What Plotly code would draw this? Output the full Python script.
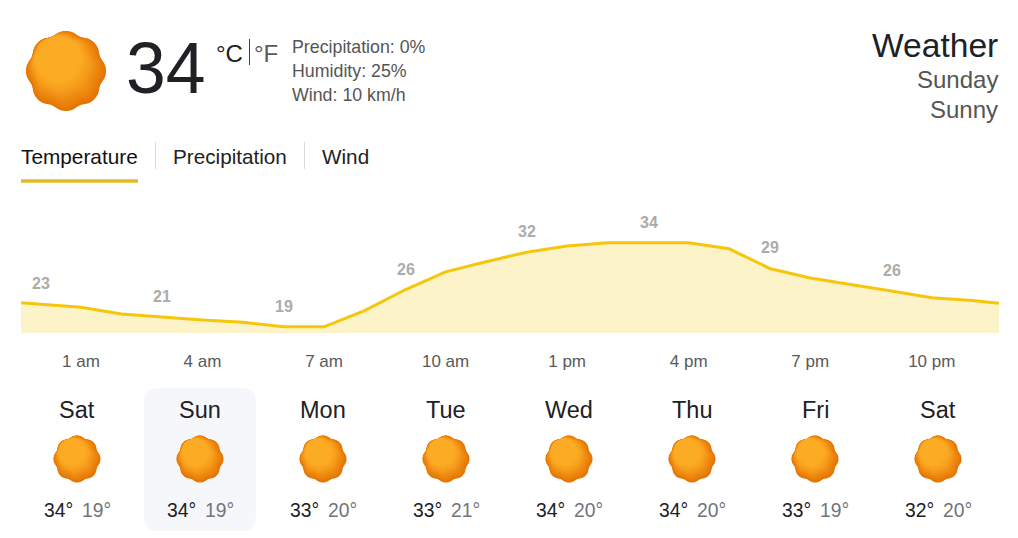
import numpy as np
import plotly.graph_objects as go

FONT = "Liberation Sans"
W, H = 1018, 538

# hourly temperature (hour 0 = midnight), ends run past the ticks
hours = [-0.48, 0, 1, 2, 3, 4, 5, 6, 7, 8, 9, 10, 11, 12, 13, 14, 15, 16, 17, 18, 19, 20, 21, 22, 23, 23.66]
temps = [23.3, 23.0, 22.5, 21.3, 20.7, 20.2, 19.8, 19.0, 19.0, 21.9, 25.6, 28.8, 30.6, 32.3, 33.4, 34.0,
         34.0, 34.0, 32.9, 29.4, 27.7, 26.6, 25.4, 24.2, 23.7, 23.2]

label_hours = [0, 3, 6, 9, 12, 15, 18, 21]
label_temps = ["23", "21", "19", "26", "32", "34", "29", "26"]

tick_hours = [1, 4, 7, 10, 13, 16, 19, 22]
tick_labels = ["1 am", "4 am", "7 am", "10 am", "1 pm", "4 pm", "7 pm", "10 pm"]

days = ["Sat", "Sun", "Mon", "Tue", "Wed", "Thu", "Fri", "Sat"]
highs = [34, 34, 33, 33, 34, 34, 33, 32]
lows = [19, 19, 20, 21, 20, 20, 19, 20]
day_centers = [77, 200, 323, 446, 569, 692, 815, 938]

details = ["Precipitation: 0%", "Humidity: 25%", "Wind: 10 km/h"]


def px(x):
    return x / W


def py(y):
    return 1 - y / H


def text(fig, x, y, s, size, color, anchor="left"):
    fig.add_annotation(x=px(x), y=py(y), xref="paper", yref="paper", text=s, showarrow=False,
                       xanchor=anchor, yanchor="middle", borderpad=0,
                       font=dict(family=FONT, size=size, color=color))


def rule(fig, x0, y0, x1, y1, color, width=1):
    fig.add_shape(type="line", xref="paper", yref="paper", x0=px(x0), y0=py(y0), x1=px(x1), y1=py(y1),
                  line=dict(color=color, width=width))


def rounded_box(fig, x0, y0, x1, y1, r, color):
    p = (f"M {px(x0 + r)} {py(y0)} L {px(x1 - r)} {py(y0)} Q {px(x1)} {py(y0)} {px(x1)} {py(y0 + r)} "
         f"L {px(x1)} {py(y1 - r)} Q {px(x1)} {py(y1)} {px(x1 - r)} {py(y1)} "
         f"L {px(x0 + r)} {py(y1)} Q {px(x0)} {py(y1)} {px(x0)} {py(y1 - r)} "
         f"L {px(x0)} {py(y0 + r)} Q {px(x0)} {py(y0)} {px(x0 + r)} {py(y0)} Z")
    fig.add_shape(type="path", xref="paper", yref="paper", path=p, fillcolor=color, line_width=0, layer="below")


def sun(fig, cx, cy, R):
    # stepped gradient: layers hug the upper left rim, so the dark part is lower right
    dark = np.array([228, 116, 4])
    mid = np.array([246, 156, 28])
    light = np.array([252, 172, 36])
    steps = 26
    theta = np.linspace(0, 2 * np.pi, 193)[:-1]
    for i in range(steps):
        t = i / (steps - 1)
        scale = 1 - 0.5 * t
        shift = 0.85 * (1 - scale) * R
        ox, oy = -0.55 * shift, -0.83 * shift
        if t < 0.55:
            c = dark + (mid - dark) * (t / 0.55)
        else:
            c = mid + (light - mid) * min((t - 0.55) / 0.3, 1)
        lobes = np.cos(8 * theta) - 0.15 * np.cos(16 * theta)
        r = R * scale * (1 + 0.038 * (1 - t) * lobes) / 1.032
        xs = cx + ox + r * np.sin(theta)
        ys = cy + oy - r * np.cos(theta)
        p = "M " + " L ".join(f"{px(a):.5f} {py(b):.5f}" for a, b in zip(xs, ys)) + " Z"
        fig.add_shape(type="path", xref="paper", yref="paper", path=p,
                      fillcolor=f"rgb({c[0]:.0f},{c[1]:.0f},{c[2]:.0f})", line_width=0)


fig = go.Figure()
fig.add_trace(go.Scatter(x=hours, y=temps, mode="lines", fill="tozeroy", fillcolor="#fdf3c9",
                         line=dict(color="#f5c60c", width=3), hoverinfo="skip"))

for h, s in zip(label_hours, label_temps):
    fig.add_annotation(x=h, y=temps[hours.index(h)], xref="x", yref="y", xshift=0.5, text=s, showarrow=False,
                       yshift=20.5, font=dict(family=FONT, size=16, color="#ababab", weight="bold"))

fig.update_layout(
    width=W, height=H, margin=dict(l=0, r=0, t=0, b=0), paper_bgcolor="white", plot_bgcolor="white",
    showlegend=False,
    xaxis=dict(domain=[px(21), px(999)], range=[-0.48, 23.66], tickvals=tick_hours, ticktext=tick_labels,
               ticks="outside", ticklen=13, tickcolor="rgba(0,0,0,0)", showgrid=False, zeroline=False,
               showline=False, tickfont=dict(family=FONT, size=17, color="#5a5a5a")),
    yaxis=dict(domain=[py(333), py(200)], range=[17.9, 41.6], visible=False),
)

# current conditions header
sun(fig, 66, 71, 40)
text(fig, 125, 68, "34", 71.5, "#202124")
text(fig, 215, 53, "°C", 24, "#202124")
rule(fig, 249.5, 39, 249.5, 65, "#3c4043")
text(fig, 253, 53, "°F", 24, "#5a5a5a")
for i, s in enumerate(details):
    text(fig, 291, 47 + 24 * i, s, 17.8, "#555555")

text(fig, 998.5, 46, "Weather", 33.6, "#202124", "right")
text(fig, 998.5, 79.5, "Sunday", 24, "#555555", "right")
text(fig, 998.5, 109.5, "Sunny", 24, "#555555", "right")

# tabs
text(fig, 20, 156.5, "Temperature", 20.8, "#111111")
text(fig, 172, 156.5, "Precipitation", 20.7, "#222222")
text(fig, 321, 156.5, "Wind", 20.7, "#222222")
rule(fig, 155.5, 142, 155.5, 169, "#dadce0")
rule(fig, 304.5, 142, 304.5, 169, "#dadce0")
rule(fig, 21, 181, 138, 181, "#e6b824", 3.5)

# daily forecast
rounded_box(fig, 144, 388, 256, 531, 14, "#f5f7fa")
for c, d, hi, lo in zip(day_centers, days, highs, lows):
    text(fig, c, 410, d, 23.5, "#202124", "center")
    sun(fig, c, 459, 23.5)
    text(fig, c - 3.5, 510, f"{hi}°", 19.3, "#202124", "right")
    text(fig, c + 3.5, 510, f"{lo}°", 19.3, "#70757a", "left")

fig.write_html("out.html", config=dict(displayModeBar=False),
               post_script="document.body.style.margin='0';document.body.style.overflow='hidden';")
